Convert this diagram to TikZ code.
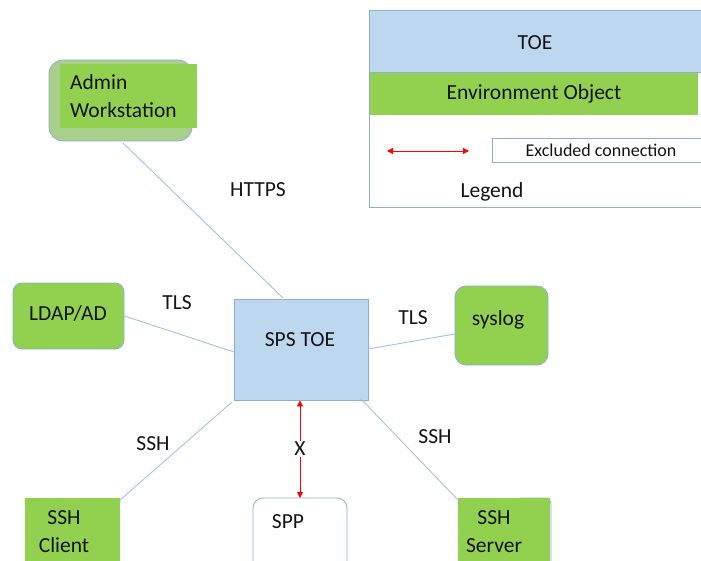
\documentclass[tikz,border=0pt]{standalone}
\usepackage{fontspec}
\setmainfont{Carlito}
\usetikzlibrary{arrows.meta}
\definecolor{toeblue}{RGB}{189,215,238}
\definecolor{edgeblue}{RGB}{140,175,210}
\definecolor{linkblue}{RGB}{157,195,230}
\definecolor{envgreen}{RGB}{146,208,80}
\definecolor{paleenv}{RGB}{168,208,138}
\tikzset{
  px/.style={x=1pt,y=-1pt},
  lbl/.style={font=\fontsize{21.5}{28}\selectfont, inner sep=0pt, text=black!92},
  envbox/.style={draw=edgeblue, fill=envgreen, line width=0.8pt},
  toebox/.style={draw=edgeblue, fill=toeblue, line width=0.8pt},
  link/.style={draw=linkblue, line width=0.9pt},
  excl/.style={draw=red, line width=0.8pt, {Triangle[length=6pt,width=6pt]}-{Triangle[length=6pt,width=6pt]}},
}
\begin{document}
\begin{tikzpicture}[px]
\useasboundingbox (0,0) rectangle (701,561);

% Legend
\draw[draw=edgeblue, line width=0.8pt, fill=white] (369,10) rectangle (706,207);
\draw[toebox] (369,10) rectangle (706,72);
\node[lbl] (lgtoe) at (535,43) {TOE};
\fill[envgreen] (370,73) rectangle (698,115);
\node[lbl] (lgenv) at (534,94) {Environment Object};
\coordinate (la) at (387,151);
\coordinate (lb) at (469,151);
\draw[excl] (la) -- (lb);
\draw[draw=edgeblue, line width=0.8pt] (492,138) rectangle (710,162);
\node[lbl, font=\fontsize{18}{20}\selectfont] (lgexcl) at (601,150) {Excluded connection};
\node[lbl] (lglegend) at (492,192) {Legend};

% Admin workstation: pale rounded back plate with green label panel
\draw[draw=edgeblue, fill=paleenv, rounded corners=14pt, line width=0.8pt] (49,60) rectangle (192,141);
\fill[envgreen] (60,64) rectangle (197,128);
\node[lbl, align=left, anchor=west] (adminlbl) at (70,96) {Admin\\Workstation};
\coordinate (admin) at (123,143);

% Central TOE
\node[toebox, minimum width=134pt, minimum height=101pt, inner sep=0pt] (sps) at (301,349.5) {};
\node[lbl] (spslbl) at (300,340) {SPS TOE};

% Environment objects
\node[envbox, rounded corners=9pt, minimum width=111pt, minimum height=66pt, inner sep=0pt] (ldap) at (68.5,316) {};
\node[lbl] at (68,313) {LDAP/AD};
\node[envbox, rounded corners=11pt, minimum width=93pt, minimum height=79pt, inner sep=0pt] (syslog) at (501.5,325.5) {};
\node[lbl] at (498,320) {syslog};

\fill[envgreen] (25,498) rectangle (120,566);
\node[lbl, align=center] (sshc) at (64,532) {SSH\\Client};
\coordinate (sshcnw) at (120,500);

\draw[draw=edgeblue, rounded corners=10pt, line width=0.8pt, fill=white] (253,498) rectangle (347,575);
\node[lbl] (spp) at (288,522) {SPP};
\coordinate (spptop) at (300,498);

\draw[draw=edgeblue, rounded corners=6pt, line width=0.8pt] (520,498) -- (551,498) -- (551,570);
\fill[envgreen] (458,498) rectangle (550,566);
\node[lbl, align=center] (sshs) at (494,532) {SSH\\Server};
\coordinate (sshsnw) at (458,500);

% Connections
\draw[link] (admin) -- (283,298);
\node[lbl] (https) at (258,190) {HTTPS};
\draw[link] (ldap.east) -- (234,352);
\node[lbl] (tls1) at (177,303) {TLS};
\draw[link] (368,349) -- (syslog.west |- 0,334);
\node[lbl] (tls2) at (413,318) {TLS};
\draw[link] (232,402) -- (sshcnw);
\node[lbl] (ssh1) at (153,444) {SSH};
\draw[link] (360,398) -- (sshsnw);
\node[lbl] (ssh2) at (435,437) {SSH};

% Excluded connection to SPP
\draw[excl] (sps.south -| spptop) -- (spptop);
\node[lbl, fill=white, inner sep=1pt] (xlbl) at (300,449) {X};
\end{tikzpicture}
\end{document}
